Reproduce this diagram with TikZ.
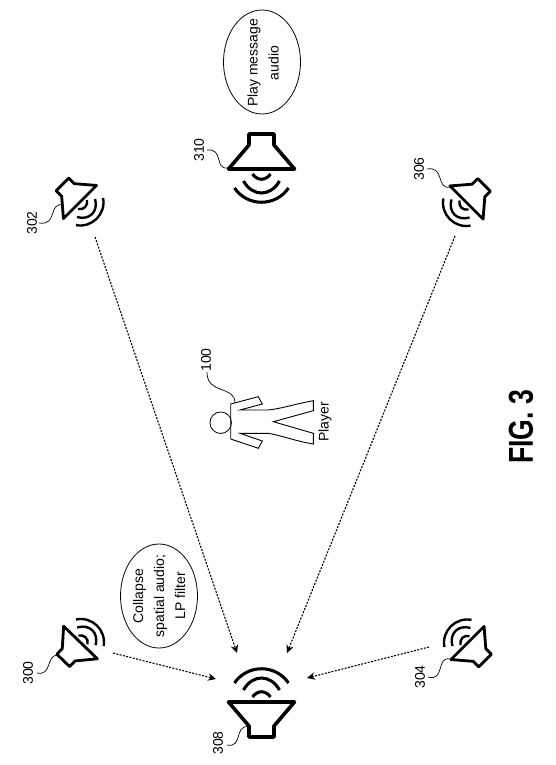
\documentclass[tikz,border=0pt]{standalone}
\usepackage{fontspec}
\setmainfont{Liberation Sans}
\usetikzlibrary{arrows.meta,shapes.geometric}
\tikzset{
  lbl/.style={rotate=90,font=\fontsize{14}{21}\selectfont,align=center,inner sep=0pt},
  bubble/.style={draw,line width=.8pt,ellipse,minimum width=77pt,minimum height=104pt,inner sep=0pt},
  leader/.style={line width=.7pt},
  flow/.style={line width=1.1pt,dash pattern=on 2pt off 1.4pt,-{Stealth[length=8pt,width=7.5pt]}},
  pics/spk/.style n args={2}{code={
    \draw[line width=#2,line join=round] (-33*#1,0) -- (33*#1,0) -- (12.5*#1,24*#1) -- (12.5*#1,35*#1) -- (-12.5*#1,35*#1) -- (-12.5*#1,24*#1) -- cycle;
    \draw[line width=#2*.85] (-9*#1,-5*#1) .. controls (-4*#1,-12*#1) and (4*#1,-12*#1) .. (9*#1,-5*#1);
    \draw[line width=#2*.85] (-18*#1,-12*#1) .. controls (-9*#1,-28*#1) and (9*#1,-28*#1) .. (18*#1,-12*#1);
    \draw[line width=#2*.85] (-27*#1,-19*#1) .. controls (-14*#1,-38*#1) and (14*#1,-38*#1) .. (27*#1,-19*#1);
  }}
}
\begin{document}
\begin{tikzpicture}[x=1pt,y=-1pt]
\useasboundingbox (0,0) rectangle (555,765);
% speakers
\coordinate (s300) at (80.5,642.5);
\coordinate (s302) at (80,202);
\coordinate (s304) at (467.5,643);
\coordinate (s306) at (466.5,202.5);
\coordinate (s308) at (261.5,702);
\coordinate (s310) at (261.5,169);
\pic[rotate=-44] at (s300) {spk={.71}{2.8pt}};
\pic[rotate=-135] at (s302) {spk={.71}{2.8pt}};
\pic[rotate=45] at (s304) {spk={.71}{2.8pt}};
\pic[rotate=135] at (s306) {spk={.71}{2.8pt}};
\pic at (s308) {spk={1}{3.6pt}};
\pic[rotate=180] at (s310) {spk={1}{3.6pt}};
% bubbles
\node[bubble] (b1) at (159,596) {};
\node[lbl] at (b1) {Collapse\\spatial audio;\\LP filter};
\node[bubble] (b2) at (262,62) {};
\node[lbl] at (263,63) {Play message\\audio};
% labels
\node[lbl] (l300) at (28,673) {300};
\node[lbl] (l302) at (32,223) {302};
\node[lbl] (l304) at (420,677) {304};
\node[lbl] (l306) at (419,169) {306};
\node[lbl] (l308) at (218,743) {308};
\node[lbl] (l310) at (199,150) {310};
\node[lbl] (l100) at (206,360) {100};
\node[lbl] (lp) at (325,422) {Player};
\node[rotate=90,font=\fontsize{26.6}{28}\selectfont\bfseries,inner sep=0pt] (fig) at (521,427) {\scalebox{1}[1.3]{FIG. 3}};
% leaders
\coordinate (a300) at (57,655); \coordinate (e300) at (37,673);
\draw[leader] (a300) .. controls (46,656) and (52,676) .. (e300);
\coordinate (a302) at (63,205); \coordinate (e302) at (39,223);
\draw[leader] (a302) .. controls (48,202) and (58,226) .. (e302);
\coordinate (a304) at (450,659); \coordinate (e304) at (428,677);
\draw[leader] (a304) .. controls (436,656) and (445,682) .. (e304);
\coordinate (a306) at (450,187); \coordinate (e306) at (427,169);
\draw[leader] (a306) .. controls (436,190) and (445,166) .. (e306);
\coordinate (a308) at (248,726.5); \coordinate (e308) at (227,745);
\draw[leader] (a308) .. controls (234,726) and (243,748) .. (e308);
\coordinate (a310) at (228,168); \coordinate (e310) at (207,150);
\draw[leader] (a310) .. controls (214,170) and (224,148) .. (e310);
\coordinate (a100) at (235,403); \coordinate (e100) at (207,372);
\draw[leader] (a100) .. controls (235,385) and (207,395) .. (e100);
% arrows
\coordinate (t300) at (113,653); \coordinate (h300) at (216,679);
\coordinate (t302) at (95,237); \coordinate (h302) at (237,653);
\coordinate (t304) at (429,647); \coordinate (h304) at (307,678);
\coordinate (t306) at (455,236); \coordinate (h306) at (287,653);
\draw[flow] (t300) -- (h300);
\draw[flow] (t302) -- (h302);
\draw[flow] (t304) -- (h304);
\draw[flow] (t306) -- (h306);
% player
\node[draw,circle,line width=.8pt,minimum size=21.5pt,inner sep=0pt] (head) at (220.7,422.7) {};
\draw[line width=.9pt,line join=miter]
  (230.7,404) -- (258.3,396.7) -- (262.3,404) -- (240,410) -- (268,410)
  .. controls (280,409) and (295,404) .. (313.3,400.7) -- (313.3,410.7) -- (273.3,421.7)
  -- (313.3,433.3) -- (313.3,444) .. controls (295,441) and (280,435) .. (268,433.3)
  -- (240,433.3) -- (262.3,441) -- (258.3,448.3) -- (230.7,439) -- cycle;
\end{tikzpicture}
\end{document}
